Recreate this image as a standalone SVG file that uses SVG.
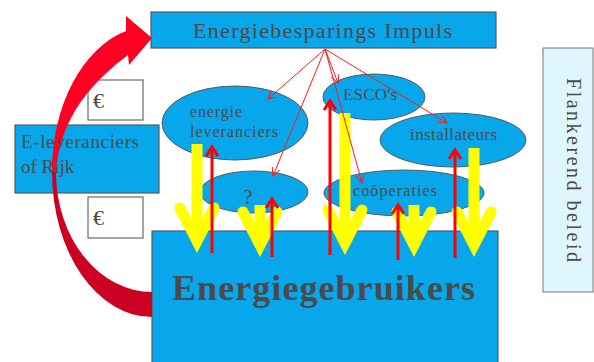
<svg xmlns="http://www.w3.org/2000/svg" width="594" height="362" viewBox="0 0 594 362">
<defs>
<style>
.box{fill:#08a6ea;stroke:#5a5a5a;stroke-width:1.2}
.ell{fill:#08a6ea;stroke:#5a5a5a;stroke-width:1}
.euro{fill:#ffffff;stroke:#6a6a6a;stroke-width:1.2}
.t{font-family:"Liberation Serif","Times New Roman",serif;fill:#4a4a4a}
.thin{stroke:#ff1a1a;stroke-width:1;fill:none;marker-end:url(#thinHead)}
.ysh{stroke:#ffff00;stroke-width:11;fill:none}
.yhd{stroke:#ffff00;stroke-width:11;fill:none;stroke-linejoin:miter;stroke-linecap:round}
.rsh{stroke:#ff0000;stroke-width:3;fill:none}
.rhd{stroke:#ff0000;stroke-width:3;fill:none;stroke-linejoin:miter}
</style>
<marker id="thinHead" markerWidth="10" markerHeight="10" refX="8" refY="4" orient="auto" markerUnits="userSpaceOnUse">
<path d="M0,0 L8,4 L0,8" fill="none" stroke="#ff1a1a" stroke-width="1"/>
</marker>
</defs>

<g id="flankerend-beleid">
<rect x="543" y="48" width="50" height="244" fill="#def6fc" stroke="#777" stroke-width="1"/>
<text class="t" x="0" y="0" transform="translate(567,170) rotate(90)" font-size="20" text-anchor="middle" textLength="184" lengthAdjust="spacing" fill="#555">Flankerend  beleid</text>
</g>

<g id="energiegebruikers">
<rect class="box" x="152" y="231" width="346" height="140"/>
<text class="t" x="172" y="300" font-size="36" font-weight="bold" textLength="303" lengthAdjust="spacing">Energiegebruikers</text>
</g>

<g id="e-leveranciers">
<rect class="box" x="15" y="125" width="144" height="68"/>
</g>

<g id="impuls">
<rect class="box" x="151" y="12" width="345" height="36"/>
<text class="t" x="193" y="38" font-size="22" textLength="259" lengthAdjust="spacing">Energiebesparings  Impuls</text>
</g>

<g id="euro-1">
<rect class="euro" x="88" y="80" width="55" height="40"/>
<text class="t" x="93" y="108" font-size="22">€</text>
</g>
<g id="euro-2">
<rect class="euro" x="88" y="197" width="55" height="41"/>
<text class="t" x="93" y="225" font-size="22">€</text>
</g>

<g id="geldstroom">
<path d="M152,317 A100,145 0 0 1 52,172 L56,172 A96,120 0 0 0 152,292 Z" fill="#cc0022"/>
<path d="M52,172 A100,145 0 0 1 126,31 L126,16 L152,38 L129,65 L128,55 C95,80 60,115 56,172 Z" fill="#ff0022"/>
</g>

<g id="e-leveranciers-label">
<text class="t" x="21" y="148" font-size="19" textLength="118" lengthAdjust="spacing">E-leveranciers</text>
<text class="t" x="21" y="173" font-size="19">of Rijk</text>
</g>

<g id="energie-leveranciers">
<ellipse class="ell" cx="235" cy="123" rx="73" ry="37"/>
<text class="t" x="190" y="117" font-size="16" textLength="52" lengthAdjust="spacing">energie</text>
<text class="t" x="190" y="137" font-size="16" textLength="88" lengthAdjust="spacing">leveranciers</text>
</g>

<g id="onbekend">
<ellipse class="ell" cx="254" cy="192" rx="54" ry="21"/>
<text class="t" x="248" y="204" font-size="20" text-anchor="middle" fill="#666">?</text>
</g>

<g id="escos">
<ellipse class="ell" cx="374" cy="97" rx="51" ry="23"/>
<text class="t" x="343" y="100" font-size="17" textLength="54" lengthAdjust="spacing">ESCO's</text>
</g>

<g id="installateurs">
<ellipse class="ell" cx="453" cy="140" rx="73" ry="27"/>
<text class="t" x="410" y="140" font-size="17" textLength="87" lengthAdjust="spacing">installateurs</text>
</g>

<g id="cooperaties">
<ellipse class="ell" cx="404" cy="193" rx="80" ry="23"/>
<text class="t" x="353" y="196" font-size="16" textLength="84" lengthAdjust="spacing">coöperaties</text>
</g>

<g id="connectors">
<g id="energie-omlaag">
<line class="ysh" x1="197" y1="144" x2="197" y2="238"/>
<polyline class="yhd" points="180,208 197,241 214,208"/>
<line class="ysh" x1="260" y1="205" x2="260" y2="242"/>
<polyline class="yhd" points="243,212 260,245 277,212"/>
<line class="ysh" x1="345" y1="113" x2="345" y2="240"/>
<polyline class="yhd" points="328,210 345,243 362,210"/>
<line class="ysh" x1="414" y1="205" x2="414" y2="242"/>
<polyline class="yhd" points="397,212 414,245 431,212"/>
<line class="ysh" x1="474" y1="148" x2="474" y2="242"/>
<polyline class="yhd" points="457,212 474,245 491,212"/>
</g>
<g id="vraag-omhoog">
<line class="rsh" x1="212" y1="253" x2="212" y2="147"/>
<polyline class="rhd" points="206,156 212,147 218,156"/>
<line class="rsh" x1="272" y1="257" x2="272" y2="199"/>
<polyline class="rhd" points="266,208 272,199 278,208"/>
<line class="rsh" x1="330" y1="255" x2="330" y2="101"/>
<polyline class="rhd" points="324,110 330,101 336,110"/>
<line class="rsh" x1="398" y1="260" x2="398" y2="205"/>
<polyline class="rhd" points="392,214 398,205 404,214"/>
<line class="rsh" x1="455" y1="258" x2="455" y2="150"/>
<polyline class="rhd" points="449,159 455,150 461,159"/>
</g>
<g id="impuls-pijlen">
<line class="thin" x1="325" y1="49" x2="268" y2="99"/>
<line class="thin" x1="325" y1="49" x2="273" y2="176"/>
<line class="thin" x1="325" y1="49" x2="338" y2="83"/>
<line class="thin" x1="325" y1="49" x2="362" y2="183"/>
<line class="thin" x1="325" y1="49" x2="447" y2="123"/>
</g>
</g>
</svg>
